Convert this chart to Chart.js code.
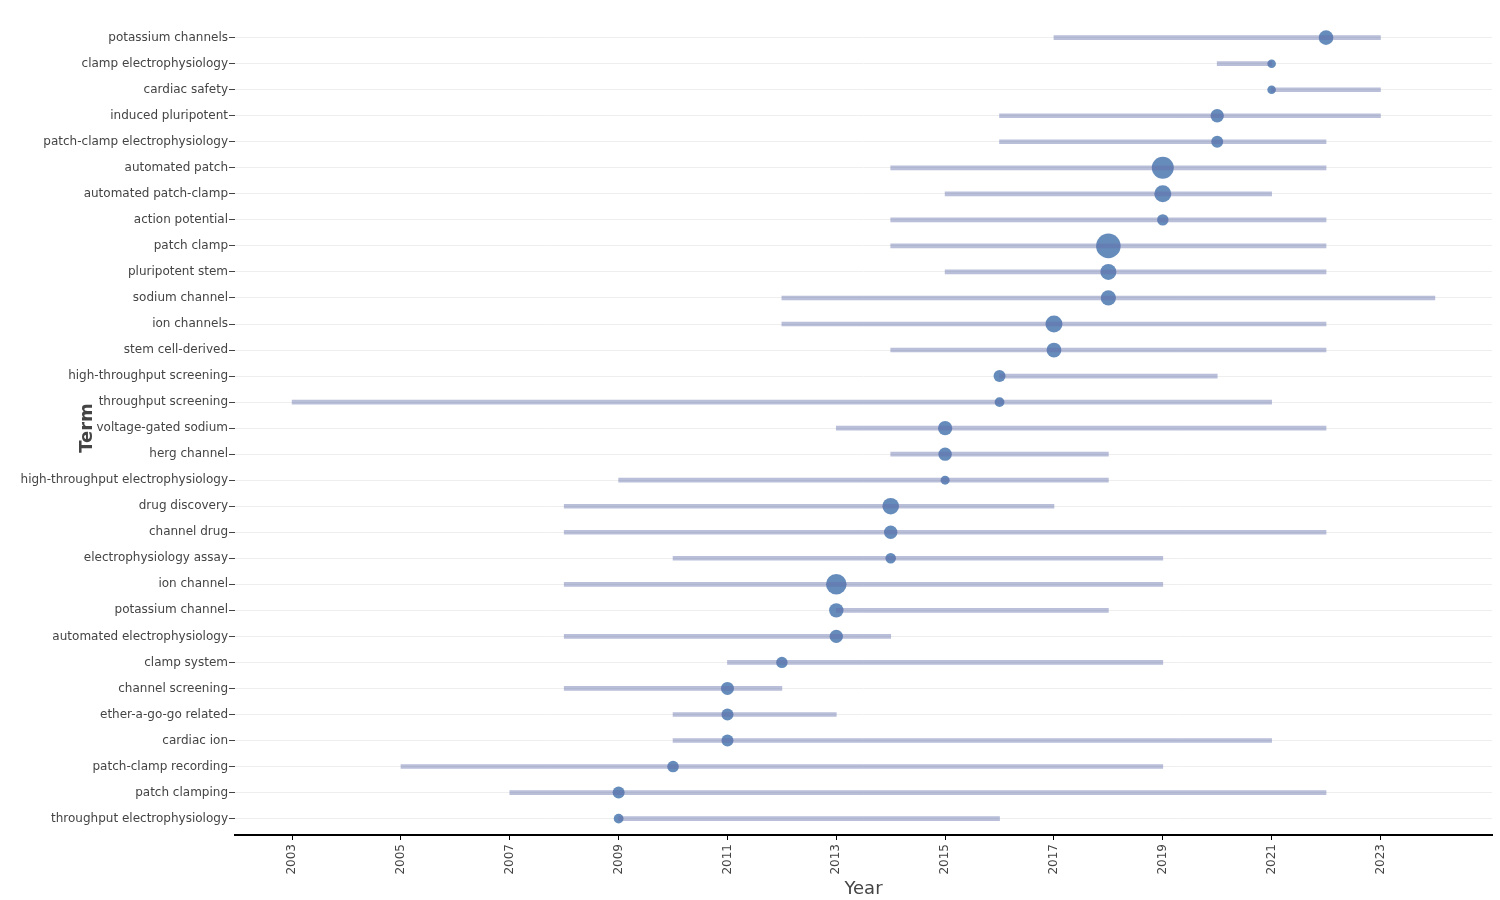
<!DOCTYPE html>
<html>
<head>
<meta charset="utf-8">
<script src="https://cdn.jsdelivr.net/npm/chart.js@4.4.1/dist/chart.umd.min.js"></script>
<style>
  html, body { margin: 0; padding: 0; background: #ffffff; }
  #wrap { width: 1500px; height: 900px; }
</style>
</head>
<body>
<div id="wrap"><canvas id="c" width="1500" height="900"></canvas></div>
<script>
// ---- data (top to bottom) ----
const terms = [
  "potassium channels", "clamp electrophysiology", "cardiac safety", "induced pluripotent",
  "patch-clamp electrophysiology", "automated patch", "automated patch-clamp", "action potential",
  "patch clamp", "pluripotent stem", "sodium channel", "ion channels", "stem cell-derived",
  "high-throughput screening", "throughput screening", "voltage-gated sodium", "herg channel",
  "high-throughput electrophysiology", "drug discovery", "channel drug", "electrophysiology assay",
  "ion channel", "potassium channel", "automated electrophysiology", "clamp system",
  "channel screening", "ether-a-go-go related", "cardiac ion", "patch-clamp recording",
  "patch clamping", "throughput electrophysiology"
];
const startYear = [2017, 2020, 2021, 2016, 2016, 2014, 2015, 2014, 2014, 2015, 2012, 2012, 2014,
  2016, 2003, 2013, 2014, 2009, 2008, 2008, 2010, 2008, 2013, 2008, 2011, 2008, 2010, 2010, 2005, 2007, 2009];
const medianYear = [2022, 2021, 2021, 2020, 2020, 2019, 2019, 2019, 2018, 2018, 2018, 2017, 2017,
  2016, 2016, 2015, 2015, 2015, 2014, 2014, 2014, 2013, 2013, 2013, 2012, 2011, 2011, 2011, 2010, 2009, 2009];
const endYear = [2023, 2021, 2023, 2023, 2022, 2022, 2021, 2022, 2022, 2022, 2024, 2022, 2022,
  2020, 2021, 2022, 2018, 2018, 2017, 2022, 2019, 2019, 2018, 2014, 2019, 2012, 2013, 2021, 2019, 2022, 2016];
const bubbleSize = [7.3, 4.3, 4.3, 6.7, 6.0, 11.0, 8.5, 5.7, 12.3, 8.0, 7.6, 8.5, 7.4,
  6.0, 4.9, 7.1, 6.7, 4.5, 8.3, 6.7, 5.3, 10.3, 7.2, 6.7, 5.7, 6.5, 6.0, 6.0, 5.8, 6.0, 4.9];
const yearTicks = [2003, 2005, 2007, 2009, 2011, 2013, 2015, 2017, 2019, 2021, 2023];

// ---- build datasets ----
const spanData = terms.map((t, i) => ({ y: i, x: [startYear[i], endYear[i]] }));
const dotData = terms.map((t, i) => ({ x: medianYear[i], y: i, r: bubbleSize[i] }));

Chart.defaults.font.family = "'DejaVu Sans', Verdana, sans-serif";
Chart.defaults.font.size = 12;
Chart.defaults.color = '#444';

// bubbles should not reserve extra outer padding (layout is fixed explicitly)
if (Chart.BubbleController) {
  Chart.BubbleController.prototype.getMaxOverflow = function () { return 0; };
}

new Chart(document.getElementById('c'), {
  type: 'bar',
  data: {
    datasets: [
      {
        type: 'bar',
        indexAxis: 'y',
        data: spanData,
        backgroundColor: 'rgba(100,110,170,0.45)',
        borderWidth: 0,
        barThickness: 4,
        order: 0
      },
      {
        type: 'bubble',
        data: dotData,
        backgroundColor: 'rgba(75,120,175,0.85)',
        borderWidth: 0,
        clip: false,
        order: 1
      }
    ]
  },
  options: {
    responsive: false,
    animation: false,
    events: [],
    layout: { padding: { top: 21, right: 8, left: 0, bottom: 0 } },
    plugins: { legend: { display: false }, tooltip: { enabled: false } },
    scales: {
      x: {
        type: 'linear',
        position: 'bottom',
        offset: false,
        min: 2001.95,
        max: 2025.05,
        afterBuildTicks: (s) => { s.ticks = yearTicks.map(v => ({ value: v })); },
        afterFit: (s) => { s.height = 65; s.paddingLeft = 0; s.paddingRight = 0; },
        grid: { offset: false, drawOnChartArea: false, drawTicks: true, tickLength: 5, tickColor: '#000', tickWidth: 1 },
        border: { display: true, color: '#000', width: 2 },
        ticks: {
          minRotation: 90, maxRotation: 90, padding: 4,
          color: '#444', font: { size: 12 },
          callback: (v) => String(v)
        },
        title: {
          display: true, text: 'Year', color: '#444',
          font: { size: 18 }, padding: { top: 0, bottom: 0 }
        }
      },
      y: {
        type: 'linear',
        position: 'left',
        reverse: true,
        offset: false,
        min: -0.64,
        max: 30.63,
        afterBuildTicks: (s) => { s.ticks = terms.map((t, i) => ({ value: i })); },
        afterFit: (s) => { s.width = 235; s.paddingTop = 0; s.paddingBottom = 0; },
        grid: { offset: false, color: '#eeeeee', lineWidth: 1, drawTicks: true, tickLength: 6, tickColor: '#444', tickWidth: 1 },
        border: { display: false },
        ticks: {
          padding: 1, color: '#444', font: { size: 12 },
          autoSkip: false,
          callback: (v) => terms[v]
        },
        title: {
          display: true, text: 'Term', color: '#444',
          font: { size: 18, weight: 'bold' }, padding: { top: 77, bottom: 0 }
        }
      }
    }
  }
});
</script>
</body>
</html>
